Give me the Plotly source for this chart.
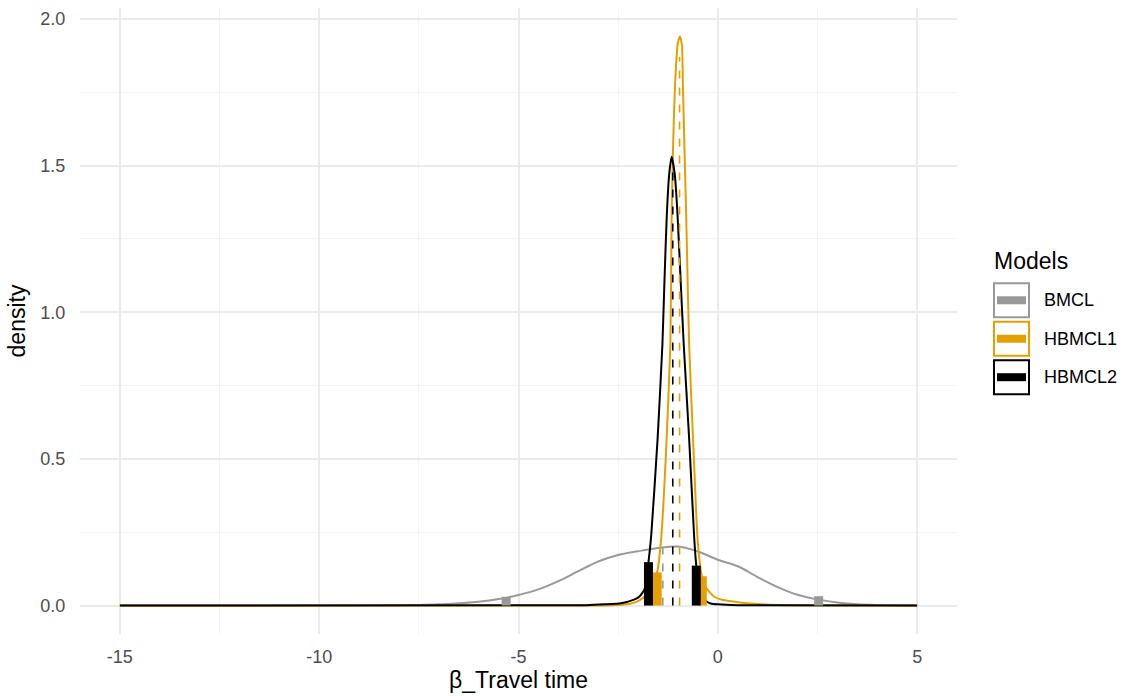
import plotly.graph_objects as go

# Posterior densities of beta_Travel time for each model
models = ["BMCL", "HBMCL1", "HBMCL2"]
colors = ["#999999", "#E69F00", "#000000"]

x_bmcl = [-15, -9, -8, -7.5, -7, -6.5, -6, -5.5, -5, -4.5, -4, -3.5, -3, -2.5, -2,
          -1.5, -1, -0.5, 0, 0.5, 1, 1.5, 2, 2.5, 3, 3.5, 4, 4.5, 5]
d_bmcl = [0, 0, 0.001, 0.002, 0.004, 0.008, 0.013, 0.022, 0.036, 0.055, 0.083, 0.117,
          0.150, 0.172, 0.185, 0.196, 0.201, 0.184, 0.156, 0.134, 0.097, 0.063, 0.037,
          0.021, 0.010, 0.004, 0.0015, 0.0005, 0]

x_h1 = [-15, -3.0, -2.5, -2.2, -2.0, -1.8, -1.65, -1.52, -1.42, -1.3, -1.19, -1.16,
        -1.125, -1.075, -1.0, -0.95, -0.9, -0.875, -0.835, -0.79, -0.72, -0.6, -0.51,
        -0.42, -0.34, -0.2, -0.09, 0.1, 0.33, 0.83, 1.5, 5]
d_h1 = [0, 0, 0.002, 0.006, 0.015, 0.035, 0.07, 0.115, 0.23, 0.52, 0.89, 1.31, 1.55,
        1.77, 1.92, 1.94, 1.91, 1.77, 1.55, 1.31, 0.89, 0.5, 0.23, 0.115, 0.07, 0.045,
        0.03, 0.02, 0.015, 0.007, 0.002, 0]

x_h2 = [-15, -3.3, -2.84, -2.43, -2.1, -1.97, -1.84, -1.74, -1.67, -1.51, -1.39, -1.34,
        -1.28, -1.22, -1.16, -1.08, -1.01, -0.93, -0.855, -0.72, -0.59, -0.54, -0.47,
        -0.38, -0.26, -0.18, 0, 0.5, 5]
d_h2 = [0, 0.001, 0.004, 0.008, 0.02, 0.03, 0.055, 0.148, 0.24, 0.57, 0.89, 1.1, 1.33,
        1.47, 1.53, 1.47, 1.33, 1.1, 0.89, 0.57, 0.225, 0.136, 0.07, 0.026, 0.012, 0.007,
        0.004, 0.001, 0]

# Posterior means (dashed) and 95% interval bounds (thick bars)
mean_x = [-1.38, -0.96, -1.13]
mean_d = [0.197, 1.87, 1.50]
lo_x = [-5.31, -1.52, -1.74]
lo_d = [0.030, 0.113, 0.148]
hi_x = [2.53, -0.39, -0.54]
hi_d = [0.032, 0.100, 0.136]

x_ticks = [-15, -10, -5, 0, 5]
x_labels = ["-15", "-10", "-5", "0", "5"]
y_ticks = [0.0, 0.5, 1.0, 1.5, 2.0]
y_labels = ["0.0", "0.5", "1.0", "1.5", "2.0"]

curves = [(x_bmcl, d_bmcl, 1.0), (x_h1, d_h1, 0.5), (x_h2, d_h2, 0.5)]

fig = go.Figure()

for (xs, ds, smooth), c in zip(curves, colors):
    fig.add_trace(go.Scatter(x=xs, y=ds, mode="lines",
                             line=dict(color=c, width=2, shape="spline",
                                       smoothing=smooth),
                             showlegend=False, hoverinfo="skip"))

for i, c in enumerate(colors):
    fig.add_trace(go.Scatter(x=[mean_x[i], mean_x[i]], y=[0, mean_d[i]], mode="lines",
                             line=dict(color=c, width=1.6, dash="8px,9px"),
                             showlegend=False, hoverinfo="skip"))

for i, c in enumerate(colors):
    for bx, bd in ((lo_x[i], lo_d[i]), (hi_x[i], hi_d[i])):
        fig.add_trace(go.Scatter(x=[bx, bx], y=[0, bd], mode="lines",
                                 line=dict(color=c, width=9),
                                 showlegend=False, hoverinfo="skip"))

# Page geometry (pixels) for the plotting panel
W, H = 1125, 696
ML, MR, MT, MB = 80, 168, 8, 61.5
PW, PH = W - ML - MR, H - MT - MB


def px(xp):
    return (xp - ML) / PW


def py(yp):
    return (H - MB - yp) / PH


# Legend drawn as keyed boxes
shapes = []
annotations = [dict(x=px(992), y=py(261), xref="paper", yref="paper",
                    text="Models", showarrow=False, xanchor="left", yanchor="middle",
                    font=dict(size=23, color="#000000"))]
row_y = [300.5, 339.0, 377.5]
for name, c, yc in zip(models, colors, row_y):
    shapes.append(dict(type="rect", xref="paper", yref="paper",
                       x0=px(994), x1=px(1029), y0=py(yc - 17), y1=py(yc + 17),
                       line=dict(color=c, width=2), fillcolor="white", layer="above"))
    shapes.append(dict(type="line", xref="paper", yref="paper",
                       x0=px(997), x1=px(1026), y0=py(yc), y1=py(yc),
                       line=dict(color=c, width=8), layer="above"))
    annotations.append(dict(x=px(1042), y=py(yc), xref="paper", yref="paper",
                            text=name, showarrow=False, xanchor="left",
                            yanchor="middle", font=dict(size=18, color="#000000")))

fig.update_layout(
    width=W, height=H,
    margin=dict(l=ML, r=MR, t=MT, b=MB, pad=0),
    paper_bgcolor="white", plot_bgcolor="white",
    font=dict(family="Liberation Sans, Arial, sans-serif"),
    showlegend=False,
    shapes=shapes, annotations=annotations,
    xaxis=dict(range=[-16, 6], tickvals=x_ticks, ticktext=x_labels,
               showgrid=True, gridcolor="#EBEBEB", gridwidth=2,
               minor=dict(dtick=2.5, tick0=-15, showgrid=True,
                          gridcolor="#F3F3F3", gridwidth=1),
               zeroline=False, showline=False,
               ticks="outside", ticklen=6, tickcolor="rgba(0,0,0,0)",
               tickfont=dict(size=18, color="#4D4D4D"),
               title=dict(text="β_Travel time", standoff=4,
                          font=dict(size=23, color="#000000")),
               automargin=False, fixedrange=True),
    yaxis=dict(range=[-0.097, 2.037], tickvals=y_ticks, ticktext=y_labels,
               showgrid=True, gridcolor="#EBEBEB", gridwidth=2,
               minor=dict(dtick=0.25, tick0=0, showgrid=True,
                          gridcolor="#F3F3F3", gridwidth=1),
               zeroline=False, showline=False,
               ticks="outside", ticklen=10, tickcolor="rgba(0,0,0,0)",
               tickfont=dict(size=18, color="#4D4D4D"),
               title=dict(text="density", standoff=8,
                          font=dict(size=23, color="#000000")),
               automargin=False, fixedrange=True),
)

fig.write_html("out.html")
